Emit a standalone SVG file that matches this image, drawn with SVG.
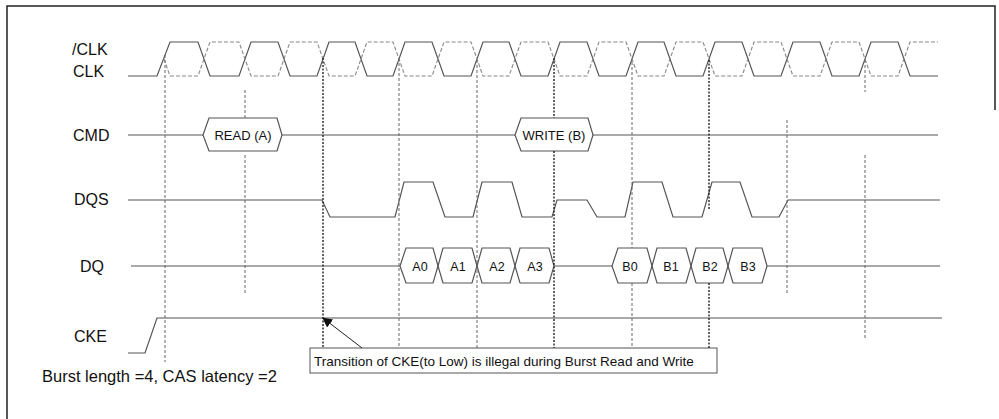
<svg xmlns="http://www.w3.org/2000/svg" width="999" height="419" viewBox="0 0 999 419">
<style>
.lbl{font-family:"Liberation Sans",Arial,sans-serif;font-size:16px;fill:#111}
.cmdt{font-family:"Liberation Sans",Arial,sans-serif;font-size:13px;fill:#111;text-anchor:middle}
.dqt{font-family:"Liberation Sans",Arial,sans-serif;font-size:12.5px;fill:#111;text-anchor:middle}
.note{font-family:"Liberation Sans",Arial,sans-serif;font-size:13.5px;fill:#111}
.wave{fill:none;stroke:#555;stroke-width:1.2}
.wdash{fill:none;stroke:#888;stroke-width:1.1;stroke-dasharray:4 2}
.guide{stroke:#666;stroke-width:1;stroke-dasharray:3 2;fill:none}
.heavy{stroke:#222;stroke-width:1.4;stroke-dasharray:2 1.5;fill:none}
.frame{stroke:#222;stroke-width:1.5;fill:none}
</style>
<defs>
<marker id="ah" viewBox="0 0 10 10" refX="9" refY="5" markerWidth="10" markerHeight="10" markerUnits="userSpaceOnUse" orient="auto">
<path d="M0,0 L10,5 L0,10 Z" fill="#111"/>
</marker>
</defs>
<g id="frame">
<path class="frame" d="M7,419 V6 H995 V110"/>
</g>
<g id="labels">
<text class="lbl" x="72" y="55">/CLK</text>
<text class="lbl" x="73" y="77">CLK</text>
<text class="lbl" x="73" y="141">CMD</text>
<text class="lbl" x="74" y="205">DQS</text>
<text class="lbl" x="80" y="272">DQ</text>
<text class="lbl" x="74" y="342">CKE</text>
<text class="lbl" x="42" y="382" style="font-size:16.5px">Burst length =4, CAS latency =2</text>
</g>
<g id="clk">
<path class="wave" d="M128,76 H157 L170,42 H198 L210,76 H239 L251,42 H278 L290,76 H317 L329,42 H355 L367,76 H393 L405,42 H432 L444,76 H471 L483,42 H509 L521,76 H548 L560,42 H587 L599,76 H626 L638,42 H664 L676,76 H703 L715,42 H742 L754,76 H781 L793,42 H820 L832,76 H859 L871,42 H898 L910,76 H938"/>
</g>
<g id="clk-n">
<path class="wdash" d="M164,59 L170,76 H198 L210,42 H239 L251,76 H278 L290,42 H317 L329,76 H355 L367,42 H393 L405,76 H432 L444,42 H471 L483,76 H509 L521,42 H548 L560,76 H587 L599,42 H626 L638,76 H664 L676,42 H703 L715,76 H742 L754,42 H781 L793,76 H820 L832,42 H859 L871,76 H898 L910,42 H938"/>
</g>
<g id="cmd">
<path class="wave" d="M128,135 H203 M282,135 H515 M593,135 H938"/>
<path class="wave" d="M203,135 L209,118 H277 L282,135 L277,151 H209 Z"/>
<text class="cmdt" x="243" y="140">READ (A)</text>
<path class="wave" d="M515,135 L521,118 H588 L593,135 L588,151 H521 Z"/>
<text class="cmdt" x="554" y="140">WRITE (B)</text>
</g>
<g id="dqs">
<path class="wave" d="M128,200 H322 L330,217 H395 L404,182 H433 L445,217 H473 L482,182 H512 L522,217 H552 L557,200 H587 L597,217 H625 L633,182 H662 L673,217 H702 L712,182 H740 L752,217 H779 L788,200 H940"/>
</g>
<g id="dq">
<path class="wave" d="M131,266 H400 M554,266 H612 M767,266 H940"/>
<path class="wave" d="M400,266 L406,248 H433 L438,266 L433,283 H406 Z"/>
<path class="wave" d="M438,266 L443,248 H472 L477,266 L472,283 H443 Z"/>
<path class="wave" d="M477,266 L482,248 H510 L515,266 L510,283 H482 Z"/>
<path class="wave" d="M515,266 L520,248 H549 L554,266 L549,283 H520 Z"/>
<path class="wave" d="M612,266 L618,248 H647 L652,266 L647,283 H618 Z"/>
<path class="wave" d="M652,266 L657,248 H686 L691,266 L686,283 H657 Z"/>
<path class="wave" d="M691,266 L696,248 H723 L728,266 L723,283 H696 Z"/>
<path class="wave" d="M728,266 L733,248 H762 L767,266 L762,283 H733 Z"/>
<text class="dqt" x="420" y="271">A0</text>
<text class="dqt" x="458" y="271">A1</text>
<text class="dqt" x="497" y="271">A2</text>
<text class="dqt" x="535" y="271">A3</text>
<text class="dqt" x="630" y="271">B0</text>
<text class="dqt" x="671" y="271">B1</text>
<text class="dqt" x="710" y="271">B2</text>
<text class="dqt" x="748" y="271">B3</text>
</g>
<g id="cke">
<path class="wave" d="M128,353 H145 L157,318 H942"/>
</g>
<g id="callout">
<rect x="310" y="348" width="407" height="25" fill="#fff" stroke="#555" stroke-width="1"/>
<text class="note" x="314" y="366">Transition of CKE(to Low) is illegal during Burst Read and Write</text>
</g>
<g id="connectors">
<line class="guide" x1="165" y1="55" x2="165" y2="362"/>
<line class="guide" x1="245" y1="90" x2="245" y2="118"/>
<line class="guide" x1="245" y1="155" x2="245" y2="295"/>
<line class="heavy" x1="323" y1="58" x2="323" y2="348"/>
<line class="guide" x1="399" y1="58" x2="399" y2="348"/>
<line class="guide" x1="477" y1="60" x2="477" y2="348"/>
<line class="heavy" x1="554" y1="58" x2="554" y2="118"/>
<line class="heavy" x1="554" y1="151" x2="554" y2="348"/>
<line class="guide" x1="632" y1="62" x2="632" y2="248"/>
<line class="guide" x1="632" y1="283" x2="632" y2="348"/>
<line class="heavy" x1="709" y1="60" x2="709" y2="210"/>
<line class="heavy" x1="709" y1="283" x2="709" y2="348"/>
<line class="guide" x1="787" y1="120" x2="787" y2="295"/>
<line class="guide" x1="865" y1="60" x2="865" y2="92"/>
<line class="guide" x1="865" y1="155" x2="865" y2="340"/>
<line x1="362" y1="348" x2="323" y2="318" stroke="#222" stroke-width="1" marker-end="url(#ah)"/>
</g>
</svg>
